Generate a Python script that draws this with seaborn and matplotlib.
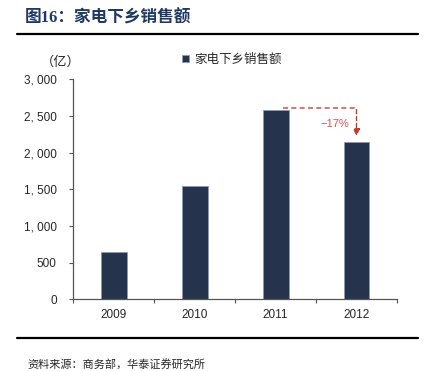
import matplotlib
matplotlib.use("Agg")
import matplotlib.pyplot as plt
import seaborn as sns
import pandas as pd
from matplotlib.ticker import FuncFormatter

years = ["2009", "2010", "2011", "2012"]
sales = [645, 1545, 2580, 2140]
series_name = "家电下乡销售额"
change_label = "−17%"
title_text = "图16：家电下乡销售额"
unit_text = "（亿）"
source_text = "资料来源：商务部，华泰证券研究所"

navy = "#1F3352"
red = "#C0392B"

sns.set_theme(style="white")
plt.rcParams["font.family"] = ["Liberation Sans", "Noto Sans CJK SC", "DejaVu Sans"]
plt.rcParams["axes.unicode_minus"] = False

df = pd.DataFrame({"year": years, "sales": sales})

fig = plt.figure(figsize=(4.25, 3.71), dpi=100)
ax = fig.add_axes([0.1725, 0.1933, 0.7615, 0.593])

sns.barplot(data=df, x="year", y="sales", color=navy, width=0.32,
            edgecolor="#8A9BB8", linewidth=0.6, label=series_name, ax=ax)

ax.set_ylim(0, 3000)
ax.set_xlim(-0.5, 3.5)
ax.set_yticks(range(0, 3001, 500))
ax.yaxis.set_major_formatter(FuncFormatter(lambda v, p: f"{int(v):,}".replace(",", ", ")))
ax.set_xlabel("")
ax.set_ylabel("")
for s in ["top", "right"]:
    ax.spines[s].set_visible(False)
for s in ["left", "bottom"]:
    ax.spines[s].set_color("#555555")
    ax.spines[s].set_linewidth(0.9)
ax.tick_params(axis="y", direction="out", length=3, width=0.8, color="#555555",
               labelsize=8.5, pad=9, left=True)
ax.tick_params(axis="x", which="major", length=0, labelsize=8.5, pad=7)
ax.set_xticks([-0.5, 0.5, 1.5, 2.5, 3.5], minor=True)
ax.tick_params(axis="x", which="minor", direction="out", length=3, width=0.8,
               color="#555555", bottom=True)

# -17% annotation
ax.plot([2.09, 3.0], [2615, 2615], ls=(0, (3, 2)), color=red, lw=1.2, alpha=0.8)
ax.annotate("", xy=(3.0, 2190), xytext=(3.0, 2625),
            arrowprops=dict(arrowstyle="-|>", color=red, lw=1.0, ls=(0, (3, 2)),
                            mutation_scale=10))
ax.text(2.73, 2390, change_label, color="#D9534F", fontsize=8, ha="center", va="center")

leg = ax.legend(loc="upper center", bbox_to_anchor=(0.49, 1.17), frameon=False,
                handlelength=0.55, handleheight=0.55, handletextpad=0.4,
                prop={"family": ["Noto Sans CJK SC"], "size": 9})

fig.text(0.095, 0.833, unit_text, fontsize=9.5, family=["Noto Sans CJK SC"],
         ha="left", va="center")

fig.text(0.058, 0.951, title_text, fontsize=12, fontweight="bold", color="#1F3864",
         family=["Liberation Serif", "Noto Sans CJK SC"], ha="left", va="center")

fig.add_artist(plt.Line2D([0.04, 0.984], [0.909, 0.909], color="black", lw=1.6))
fig.add_artist(plt.Line2D([0.04, 0.984], [0.090, 0.090], color="black", lw=1.6))

fig.text(0.065, 0.004, source_text, fontsize=8, family=["Noto Sans CJK SC"],
         ha="left", va="bottom")

fig.savefig("out.png", dpi=100)
